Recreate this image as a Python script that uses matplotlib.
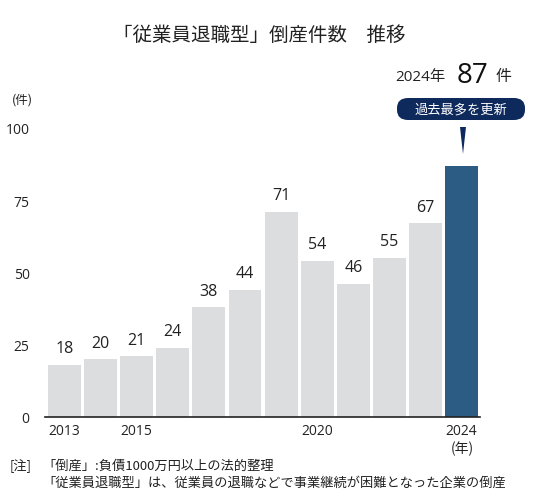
import matplotlib
matplotlib.use("Agg")
import matplotlib.pyplot as plt
from matplotlib.patches import FancyBboxPatch, Polygon

plt.rcParams['font.family'] = ['Noto Sans CJK JP', 'DejaVu Sans']
NUM = ['Open Sans', 'Noto Sans CJK JP']

years = [2013, 2014, 2015, 2016, 2017, 2018, 2019, 2020, 2021, 2022, 2023, 2024]
values = [18, 20, 21, 24, 38, 44, 71, 54, 46, 55, 67, 87]
xtick_years = [2013, 2015, 2020, 2024]
yticks = [0, 25, 50, 75, 100]

W, H = 552, 502
fig = plt.figure(figsize=(W / 100, H / 100), dpi=100)
ax = fig.add_axes([45 / W, 84 / H, 435 / W, 289 / H])

colors = ['#dcdddf'] * (len(values) - 1) + ['#2c5b83']
x = list(range(len(values)))
ax.bar(x, values, width=0.91, color=colors, zorder=2)
for xi, v in zip(x[:-1], values[:-1]):
    ax.text(xi, v + 3.0, str(v), ha='center', va='bottom', fontsize=11.5,
            color='#222222', family=NUM)

ax.set_xlim(-0.54, 11.51)
ax.set_ylim(0, 100)
ax.set_yticks(yticks)
ax.set_yticklabels([str(t) for t in yticks], fontsize=10, color='#222222', family=NUM)
ax.set_xticks([years.index(y) for y in xtick_years])
ax.set_xticklabels([str(y) for y in xtick_years], fontsize=10, color='#222222', family=NUM)
ax.tick_params(axis='both', length=0)
ax.tick_params(axis='y', pad=11)
ax.tick_params(axis='x', pad=4)
for s in ['top', 'right', 'left']:
    ax.spines[s].set_visible(False)
ax.spines['bottom'].set_color('#222222')
ax.spines['bottom'].set_linewidth(1.2)
ax.spines['bottom'].set_zorder(3)

def fx(px):
    return px / W
def fy(py):
    return 1 - py / H

fig.text(fx(259), fy(35), '「従業員退職型」倒産件数　推移', ha='center', va='center', fontsize=14, color='#222222')
fig.text(fx(22), fy(100), '(件)', ha='center', va='center', fontsize=9, color='#222222')
fig.text(fx(462), fy(449), '(年)', ha='center', va='center', fontsize=10, color='#222222')

fig.text(fx(420), fy(77), '2024年', ha='center', va='center', fontsize=11, color='#222222', family=NUM)
fig.text(fx(472), fy(76), '87', ha='center', va='center', fontsize=20, color='#111111', family=NUM)
fig.text(fx(504), fy(77), '件', ha='center', va='center', fontsize=11.5, color='#222222')

box = FancyBboxPatch((fx(397), fy(121)), fx(525) - fx(397), fy(99) - fy(121),
                     boxstyle='round,pad=0,rounding_size=0.02', transform=fig.transFigure,
                     facecolor='#0e2a5c', edgecolor='none')
fig.add_artist(box)
fig.text(fx(461), fy(110), '過去最多を更新', ha='center', va='center', fontsize=9.5, color='white')
tri = Polygon([(fx(460), fy(128)), (fx(466), fy(128)), (fx(463), fy(155))], closed=True,
              transform=fig.transFigure, facecolor='#0e2a5c', edgecolor='none')
fig.add_artist(tri)

fig.text(fx(10), fy(466), '[注]', ha='left', va='center', fontsize=9.5, color='#222222')
fig.text(fx(42), fy(466), '「倒産」:負債1000万円以上の法的整理', ha='left', va='center', fontsize=9.5, color='#222222')
fig.text(fx(42), fy(483), '「従業員退職型」は、従業員の退職などで事業継続が困難となった企業の倒産', ha='left', va='center', fontsize=9.5, color='#222222')

fig.savefig('out.png', dpi=100, facecolor='white')
